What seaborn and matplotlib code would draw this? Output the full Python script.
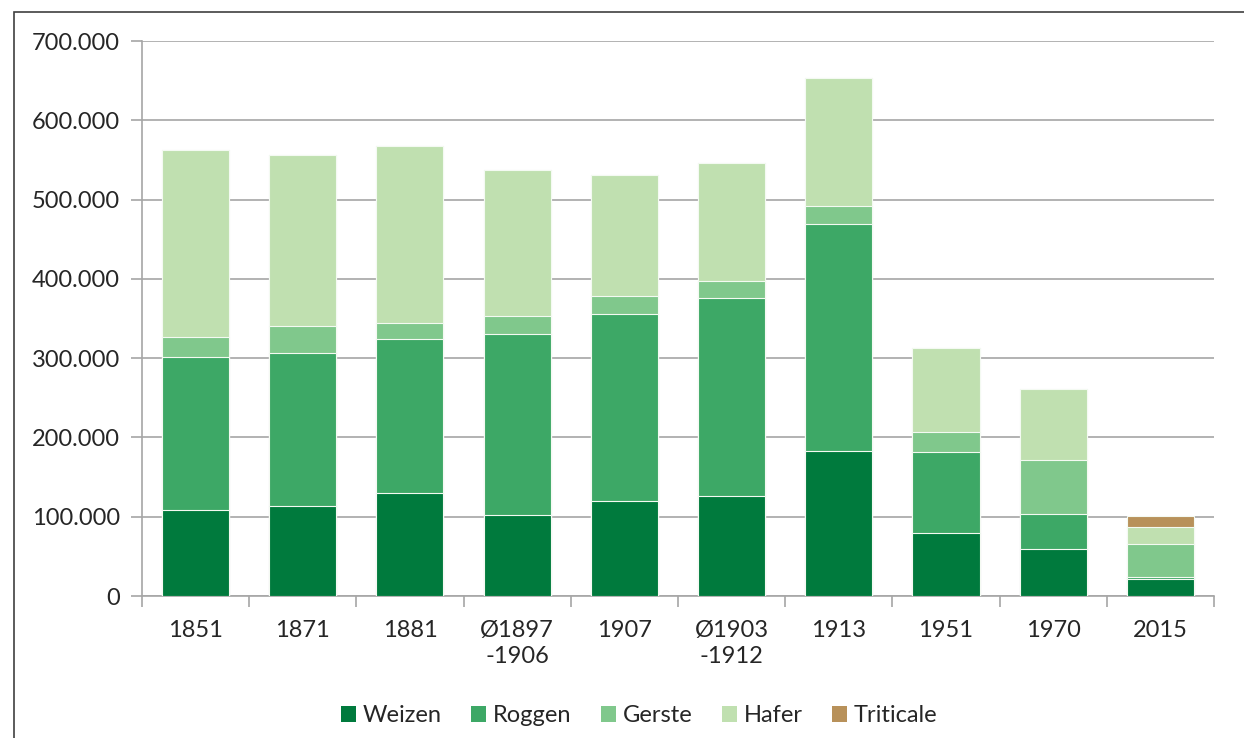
import numpy as np
import pandas as pd
import matplotlib
matplotlib.use("Agg")
import matplotlib.pyplot as plt
from matplotlib.patches import Patch, Rectangle
from matplotlib.ticker import FuncFormatter, FixedLocator
import seaborn as sns

# Anbauflächen nach Getreideart (ha)
jahre = ["1851", "1871", "1881", "Ø1897\n-1906", "1907", "Ø1903\n-1912",
         "1913", "1951", "1970", "2015"]
weizen = [108000, 113000, 130000, 102000, 120000, 126000, 183000, 79000, 59000, 22000]
roggen = [193000, 194000, 194000, 228000, 236000, 250000, 286000, 103000, 44000, 2500]
gerste = [26000, 33000, 20000, 23000, 22000, 21000, 23000, 25000, 69000, 40500]
hafer = [235000, 216000, 224000, 184000, 153000, 149000, 161000, 106000, 89000, 22000]
triticale = [0, 0, 0, 0, 0, 0, 0, 0, 0, 14000]

arten = ["Weizen", "Roggen", "Gerste", "Hafer", "Triticale"]
farben = ["#007a3d", "#3da866", "#80c88c", "#c0e0b0", "#b8915a"]

sns.set_theme(style="white")
plt.rcParams["font.family"] = ["Lato", "DejaVu Sans"]

df = pd.DataFrame({"Jahr": jahre, "Weizen": weizen, "Roggen": roggen,
                   "Gerste": gerste, "Hafer": hafer, "Triticale": triticale})
kum = df[arten].cumsum(axis=1)

fig = plt.figure(figsize=(12.44, 7.38), dpi=100)
ax = fig.add_axes([0.1141, 0.1924, 0.8618, 0.752])

# stacked bars: draw cumulative totals from the top layer downwards
for art, farbe in reversed(list(zip(arten, farben))):
    sns.barplot(x=df["Jahr"], y=kum[art], color=farbe, width=0.625,
                edgecolor="#f4faf2", linewidth=0.8, saturation=1, ax=ax, zorder=3)

grau = "#a6a6a6"
text = "#262626"
fs = 17
ax.set_ylim(0, 700000)
ax.set_xlim(-0.5, len(jahre) - 0.5)
ax.yaxis.set_major_locator(FixedLocator(np.arange(0, 700001, 100000)))
ax.yaxis.set_major_formatter(FuncFormatter(lambda v, p: f"{int(v):,}".replace(",", ".")))
ax.grid(axis="y", color=grau, linewidth=1.2, zorder=0)
ax.set_axisbelow(True)
ax.set_xlabel("")
ax.set_ylabel("")

for s in ["top", "right"]:
    ax.spines[s].set_visible(False)
for s in ["left", "bottom"]:
    ax.spines[s].set_color(grau)
    ax.spines[s].set_linewidth(1.2)

ax.tick_params(axis="y", which="major", left=True, length=8, width=1.2, color=grau,
               labelsize=fs, labelcolor=text, pad=8)
ax.set_xticks(range(len(jahre)))
ax.set_xticklabels(jahre, fontsize=fs, color=text, linespacing=1.3)
ax.set_xticks(np.arange(-0.5, len(jahre), 1.0), minor=True)
ax.tick_params(axis="x", which="major", length=0, pad=17)
ax.tick_params(axis="x", which="minor", bottom=True, length=8, width=1.2, color=grau)
for lbl in ax.get_xticklabels():
    lbl.set_verticalalignment("top")

handles = [Patch(facecolor=f, edgecolor="none", label=a) for a, f in zip(arten, farben)]
fig.legend(handles=handles, loc="center", bbox_to_anchor=(0.514, 0.03), ncol=5,
           frameon=False, fontsize=fs, handlelength=0.62, handleheight=0.62,
           handletextpad=0.3, columnspacing=1.25, labelcolor=text)

# chart frame
fig.patches.append(Rectangle((14 / 1244, -0.01), 1.5, 1.0 - 12 / 738 + 0.01,
                             transform=fig.transFigure, fill=False,
                             edgecolor="#404040", linewidth=1.2))

fig.savefig("out.png", dpi=100)
